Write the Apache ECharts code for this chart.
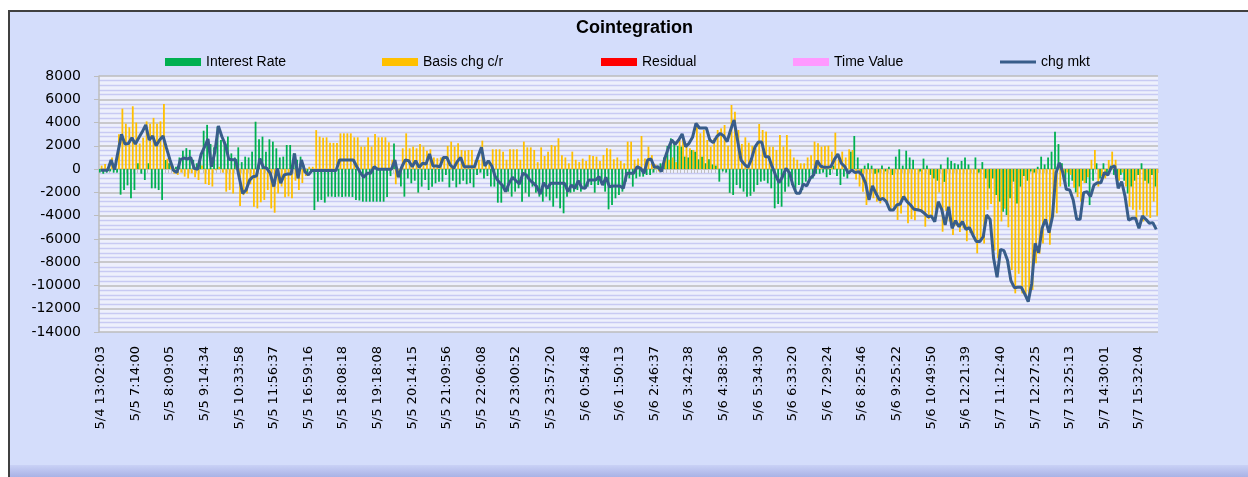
<!DOCTYPE html>
<html><head><meta charset="utf-8">
<script src="https://cdn.jsdelivr.net/npm/echarts@6/dist/echarts.min.js"></script>
<style>
html,body{margin:0;padding:0;background:#fff;width:1248px;height:477px;overflow:hidden}
#frame{position:absolute;left:8px;top:10px;width:1260px;height:480px;background:#D4DDFB;border-top:2px solid #404040;border-left:2px solid #404040;}
#shade{position:absolute;left:10px;top:465px;width:1260px;height:12px;background:linear-gradient(#C9D1F6,#A9B2E5);}
#chart{position:absolute;left:0;top:0;width:1248px;height:477px}
</style></head><body>
<div id="frame"></div><div id="shade"></div><div id="chart"></div>
<script>
const tickLabels = ['5/4 13:02:03','5/5 7:14:00','5/5 8:09:05','5/5 9:14:34','5/5 10:33:58','5/5 11:56:37','5/5 16:59:16','5/5 18:08:18','5/5 19:18:08','5/5 20:14:15','5/5 21:09:56','5/5 22:06:08','5/5 23:00:52','5/5 23:57:20','5/6 0:54:48','5/6 1:50:13','5/6 2:46:37','5/6 3:42:38','5/6 4:38:36','5/6 5:34:30','5/6 6:33:20','5/6 7:29:24','5/6 8:25:46','5/6 9:25:22','5/6 10:49:50','5/6 12:21:39','5/7 11:12:40','5/7 12:27:25','5/7 13:25:13','5/7 14:30:01','5/7 15:32:04'];
const interestRate = [
-300,-400,-300,-200,-300,-300,-2200,-1800,-1400,-2500,
-1800,500,-400,-940,500,-1650,-1650,-1800,-2650,780,
500,300,200,1000,1580,1800,1650,800,500,1070,
3300,3800,2150,1870,3650,2500,2300,2800,1350,1000,
1870,600,1070,1000,1500,4070,2560,2790,1500,2560,
2360,1785,1000,1070,2070,2070,1350,800,1070,300,
-300,-300,-3520,-2800,-2650,-2880,-2370,-2370,-2400,-2370,
-2400,-2370,-2370,-2400,-2650,-2700,-2800,-2800,-2800,-2800,
-2800,-2800,-2800,-2400,-600,2200,-650,-1500,-2370,-800,
-1220,-1000,-2020,-1510,-940,-1800,-1510,-1220,-1080,-1080,
-500,-1570,-1000,-1570,-1300,-1000,-1300,-1200,-1570,-500,
-300,-800,-600,-1500,-1510,-2885,-2885,-1940,-1940,-2370,
-1940,-1650,-2800,-2025,-2370,-1510,-2025,-2370,-2800,-2370,
-2700,-3230,-2510,-3370,-3800,-2370,-2025,-1940,-1800,-1940,
-1650,-1510,-1370,-2025,-1370,-1220,-1940,-3460,-3085,-2510,
-2225,-1940,-1080,-795,-1510,-795,-650,-650,-510,-510,
-300,200,500,1000,1985,2645,2360,1985,1930,1070,
1000,1640,1500,840,1070,500,840,400,300,-1080,
-200,-300,-2040,-2225,-1370,-1650,-1940,-2370,-2300,-1940,
-1370,-1080,-1000,-1220,-1650,-3370,-3000,-3230,-1940,-1510,
-1370,-1800,-1370,-1800,-1080,-795,-800,-400,-400,-300,
-700,-500,300,-600,-1370,-650,-800,1500,2845,1000,
-500,300,500,300,-400,-300,300,-200,200,-500,
1070,1700,300,1580,1000,800,0,-200,900,300,
-500,-800,-1000,400,-1100,1000,700,500,400,700,
1000,400,0,1000,-300,600,-800,-1660,-800,-2230,
-2800,-3660,-3950,-2500,-1080,-2950,-1510,-600,-1000,-200,
-300,200,1070,400,1000,1500,3210,2150,500,-1230,
-1510,-1000,-2000,-1500,-1000,-1200,-3090,-1000,500,-800,
500,-500,300,-500,-1230,-500,-1000,-2090,-1500,-1000,
-500,500,-1000,-1230,-500,-1500
];
const basisChg = [
300,440,200,1000,300,3000,5200,3900,3600,5400,
4000,2200,2700,4100,3900,4400,3900,4100,5600,900,
300,-400,-500,-300,-650,-800,-360,-700,-940,300,
-1280,-1370,-1500,-100,200,-300,-1940,-1800,-2100,300,
-3180,-2240,-2100,-1300,-3240,-3380,-2850,-2650,-1800,-3380,
-3750,-2080,-1500,-2430,-2350,-2500,-1000,-1800,-1200,-600,
200,200,3350,2790,2700,2730,2270,2250,2250,3070,
3070,3070,3070,2730,2730,1930,1930,2730,1930,3020,
2730,2730,2730,2300,800,-1300,-500,1785,3070,1785,
1930,1785,2150,1930,1580,1700,1000,930,1000,1070,
1990,2360,1930,2215,1640,1600,1640,1640,780,780,
2440,500,500,1700,1700,1700,1500,800,1700,1700,
1700,800,2360,1870,1870,1640,600,1870,1125,1500,
2070,1985,2645,1200,1000,500,1500,800,600,900,
700,1210,1125,1070,700,1210,1785,1700,840,1000,
700,500,2360,2360,800,900,2845,900,1930,1200,
400,-200,300,1000,800,1000,600,2500,2845,2215,
1785,1640,3790,3075,3360,2500,1930,2645,3360,3500,
3790,2000,5510,4935,3360,2160,2730,2270,2000,1800,
3875,3360,3220,1930,1930,1640,2930,1930,2930,1700,
1000,800,500,500,1000,1200,2360,2215,1930,1985,
2000,1500,3130,1070,1500,1000,1700,1640,-900,-1500,
-1940,-3085,-2510,-2500,-2800,-2950,-2650,-2900,-3500,-3300,
-4370,-3810,-2500,-4660,-4300,-4400,-3500,-3600,-4950,-4300,
-4000,-3500,-2000,-5380,-3600,-4500,-5660,-4900,-5400,-5100,
-6200,-5500,-5660,-7240,-6200,-6400,-3500,-3000,-7000,-7670,
-4500,-3400,-5000,-8670,-10680,-9000,-10680,-10970,-11260,-10390,
-8100,-7300,-6400,-4700,-6500,-4090,-3800,-1500,-1000,-300,
-500,-1600,-2400,-2800,-1200,-700,800,1640,-1500,-600,
-800,780,1500,800,-1000,-300,-1500,-3230,-3500,-4380,
-3500,-4500,-4000,-4200,-2800,-4000
];
const residual = [];
const timeValue = [];
const chgMkt = [
-100,-100,-100,780,-50,1500,3000,2150,2200,2700,
2150,2700,3200,3800,2500,2850,2000,2500,2850,1800,
800,-100,-300,800,950,850,1000,70,-20,1270,
1900,2600,200,1500,3700,2800,2100,850,800,800,
-700,-2100,-1800,-950,-650,-600,900,150,70,-360,
-1500,70,-1200,-500,-420,-420,1350,-800,780,-220,
-500,-130,-130,-130,-130,-130,-130,-130,-130,780,
780,780,780,780,200,-300,-700,-360,-360,200,
-20,-20,-20,-20,-20,780,-700,200,780,720,
200,720,150,500,440,1300,270,270,200,1000,
1000,350,70,640,1000,200,200,200,200,1070,
1870,266,720,266,-650,-1080,-1370,-1940,-1220,-710,
-1000,-1280,-360,-510,-940,-1200,-1510,-2140,-1170,-1650,
-1220,-1220,-1220,-1220,-1220,-1940,-1370,-1650,-1000,-1600,
-1650,-940,-940,-940,-650,-1370,-710,-1510,-1450,-1450,
-1450,-1650,-360,-360,-360,210,70,-360,780,870,
150,210,-220,925,1785,2500,2130,2500,3020,1930,
2215,2730,3930,3530,3530,3530,2500,2270,2790,3070,
2845,2360,3360,4220,2500,780,400,150,840,1870,
2330,2330,1070,1070,210,-510,-1170,-650,66,-300,
-1370,-2080,-2080,-1280,-1450,-790,-510,725,266,150,
150,210,840,1300,500,210,-360,-80,-300,-220,
-510,-1200,-2650,-1450,-2080,-2650,-2510,-2800,-3520,-3520,
-3090,-3000,-2370,-2800,-3090,-3460,-3500,-3570,-3800,-4090,
-4030,-4520,-2800,-3460,-4800,-3230,-5090,-4430,-4950,-4520,
-5180,-5030,-5660,-6230,-6230,-5810,-3950,-4320,-7670,-9300,
-6900,-7010,-7810,-9590,-10190,-10160,-10160,-10730,-11390,-9870,
-6380,-7180,-5090,-4320,-5470,-4090,-360,550,-300,-1740,
-1800,-2650,-4320,-4320,-2020,-1940,-2370,-1370,-1170,-1170,
-300,-510,150,270,-1650,-1080,-2370,-4380,-4230,-4230,
-5090,-4030,-4320,-4660,-4600,-5180
];
const N = chgMkt.length;
const categories = Array.from({length: N}, (_, i) => (i % 10 === 0 ? tickLabels[i / 10] : ''));

const chart = echarts.init(document.getElementById('chart'), null, {renderer: 'canvas'});
const legendText = {fontFamily: 'Liberation Sans', fontSize: 14, color: '#000'};
function lg(name, left, icon, h) {
  return {data: [name], left: left, top: 50, itemWidth: 36, itemHeight: h || 8, icon: icon,
          textStyle: legendText, selectedMode: false};
}
chart.setOption({
  animation: false,
  backgroundColor: 'transparent',
  title: {text: 'Cointegration', left: 571, top: 14, textStyle: {fontFamily: 'Liberation Sans', fontWeight: 'bold', fontSize: 18, color: '#000'}},
  legend: [lg('Interest Rate', 160, 'rect'), lg('Basis chg c/r', 377, 'rect'), lg('Residual', 596, 'rect'),
           lg('Time Value', 788, 'rect'), lg('chg mkt', 995, 'rect', 3)],
  grid: {left: 99, right: 90, top: 76, bottom: 145, show: true, backgroundColor: '#EEF0FC', borderWidth: 0},
  xAxis: [
    {type: 'category', data: categories, position: 'bottom', boundaryGap: true,
     axisLine: {show: false, onZero: false}, axisTick: {show: false},
     axisLabel: {interval: 9, rotate: 90, margin: 14, fontFamily: 'DejaVu Sans', fontSize: 13, color: '#000'},
     splitLine: {show: false}},
    {type: 'category', data: categories, position: 'top', boundaryGap: true,
     axisLine: {show: true, onZero: true, lineStyle: {color: '#C0C0C0', width: 1.5}},
     axisTick: {show: true, interval: 0, inside: true, length: 4, lineStyle: {color: '#C0C0C0', width: 1}},
     axisLabel: {show: false}, splitLine: {show: false}}
  ],
  yAxis: {type: 'value', min: -14000, max: 8000, interval: 2000,
    axisLine: {show: true, lineStyle: {color: '#BDBDBD', width: 1.5}},
    axisTick: {show: true, length: 5, lineStyle: {color: '#BDBDBD'}},
    axisLabel: {margin: 18, fontFamily: 'DejaVu Sans', fontSize: 14, color: '#000', formatter: v => String(v)},
    splitLine: {lineStyle: {color: '#BDBDBD', width: 1.5}},
    minorTick: {show: false, splitNumber: 5},
    minorSplitLine: {show: true, lineStyle: {color: '#C8CAF3', width: 1.4}}
  },
  series: [
    {name: 'Interest Rate', type: 'bar', data: interestRate, stack: 'a', barWidth: 1.8, barGap: '0%', itemStyle: {color: '#00B050'}},
    {name: 'Basis chg c/r', type: 'bar', data: basisChg, stack: 'b', barWidth: 1.8, barGap: '0%', itemStyle: {color: '#FFC000'}},
    {name: 'Residual', type: 'bar', data: residual, stack: 'a', barWidth: 1.8, barGap: '0%', itemStyle: {color: '#FF0000'}},
    {name: 'Time Value', type: 'bar', data: timeValue, stack: 'b', barWidth: 1.8, barGap: '0%', itemStyle: {color: '#FF99FF'}},
    {name: 'chg mkt', type: 'line', data: chgMkt, symbol: 'none', z: 5,
     lineStyle: {color: '#385D8A', width: 3}, itemStyle: {color: '#385D8A'}}
  ]
});
</script>
</body></html>
